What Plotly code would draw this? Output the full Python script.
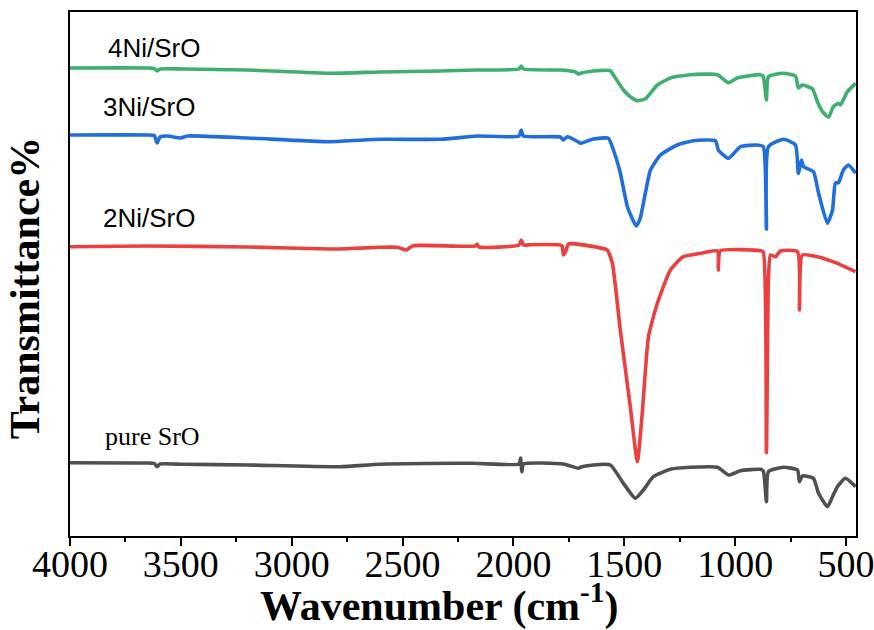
import plotly.graph_objects as go

# Wavenumber (cm-1) and transmittance (arbitrary offset units)
wn_4ni = [4000, 3652, 3620, 3607, 3594, 3490, 3200, 2827, 2601, 2330, 2172, 1975, 1965, 1955,
          1789, 1757, 1720, 1707, 1698, 1640, 1563, 1549, 1504, 1473, 1441, 1405, 1351, 1292,
          1202, 1080, 1030, 990, 886, 873, 859, 850, 782, 728, 715, 697, 651, 629, 606, 579,
          557, 534, 525, 494, 457]
t_4ni = [462, 462, 461.5, 459, 461, 461, 460, 456.7, 458, 459, 460, 461, 464, 461,
         460, 459.5, 458, 456, 456.7, 459, 459.3, 455, 440, 433.3, 429.3, 431.2, 445, 452,
         455.3, 455.3, 447.3, 452, 455.3, 453.3, 430, 453.3, 456.7, 454, 442, 445, 441, 428.3, 418.3, 412.7,
         423.3, 426.7, 425, 438.3, 446.7]

wn_3ni = [4000, 3652, 3620, 3607, 3594, 3560, 3500, 3470, 3200, 2827, 2601, 2330, 2163, 1975,
          1965, 1955, 1789, 1775, 1757, 1707, 1698, 1640, 1572, 1549, 1518, 1486, 1446, 1428,
          1405, 1382, 1337, 1261, 1188, 1089, 1076, 1030, 976, 900, 873, 859, 850, 782, 728,
          715, 701, 692, 647, 624, 584, 561, 548, 534, 512, 489, 457]
t_3ni = [395, 395, 394.5, 387, 393, 394, 392, 394, 392, 388.3, 390.7, 390.7, 394, 394,
         400, 394, 393, 390, 393.3, 388, 386.7, 391, 391.7, 380, 357, 323.3, 304, 312,
         337, 360, 375, 385, 389.3, 389.3, 380, 371.7, 383.3, 385, 383.3, 300.7, 383.3, 390.7, 385,
         356.7, 370, 363.3, 358.3, 337, 306.7, 320, 347, 347.3, 360, 365, 356.7]

wn_2ni = [4000, 3652, 3200, 2827, 2781, 2601, 2524, 2484, 2452, 2170, 2165, 2155, 1975, 1965,
          1955, 1924, 1789, 1780, 1775, 1765, 1752, 1622, 1577, 1554, 1518, 1473, 1441, 1419,
          1391, 1351, 1292, 1234, 1157, 1080, 1076, 1067, 886, 873, 859, 850, 841, 818, 796,
          719, 710, 697, 629, 539, 457]
t_2ni = [283.3, 284, 283, 281, 281, 282.7, 282.7, 280, 284.3, 284, 286, 283, 285, 290,
         285, 285.3, 285, 284, 275, 278, 286, 282.7, 280, 267, 200, 123.3, 68.3, 117,
         193.3, 226.7, 260, 273.3, 276.7, 279, 260, 279, 279.3, 278, 77.3, 250, 275, 273.3, 279,
         278.3, 220, 275, 273.3, 266.7, 258.3]

wn_pure = [4000, 3652, 3620, 3607, 3594, 3490, 3200, 2781, 2601, 2181, 1975, 1968, 1962, 1955,
           1775, 1707, 1698, 1640, 1563, 1504, 1450, 1414, 1369, 1292, 1202, 1080, 1030, 976,
           886, 873, 859, 850, 782, 719, 710, 697, 647, 624, 584, 561, 539, 503, 457]
t_pure = [67.3, 67, 66.5, 63.3, 66, 65.7, 65, 63.3, 65.7, 66.7, 66, 72, 58.3, 66,
          66, 61.7, 62.7, 65, 65, 46.7, 31.7, 40, 53.3, 60.7, 62.7, 62.7, 55, 59.3,
          60.7, 59, 28.3, 58.3, 62.7, 60, 48.3, 54, 51.7, 36.7, 23.3, 33.3, 43.3, 51.7, 43.3]

series = [
    ("4Ni/SrO", wn_4ni, t_4ni, "#3cb06c"),
    ("3Ni/SrO", wn_3ni, t_3ni, "#1f6ee0"),
    ("2Ni/SrO", wn_2ni, t_2ni, "#ec4040"),
    ("pure SrO", wn_pure, t_pure, "#505050"),
]

sans = "Liberation Sans, Arial, sans-serif"
serif = "Liberation Serif, Times New Roman, serif"

# label text, anchor wavenumber, anchor transmittance, font family
labels = [
    ("4Ni/SrO", 3837, 482, sans),
    ("3Ni/SrO", 3860, 423, sans),
    ("2Ni/SrO", 3860, 312, sans),
    ("pure SrO", 3851, 94, serif),
]

x_ticks = [4000, 3500, 3000, 2500, 2000, 1500, 1000, 500]
x_minor = [3750, 3250, 2750, 2250, 1750, 1250, 750]

fig = go.Figure()
for name, xs, ys, col in series:
    fig.add_trace(go.Scatter(x=xs, y=ys, mode="lines", name=name,
                             line=dict(color=col, width=3.6, shape="spline", smoothing=0.5),
                             showlegend=False))

for text, lx, ly, fam in labels:
    fig.add_annotation(x=lx, y=ly, text=text, showarrow=False, xanchor="left",
                       yanchor="middle", font=dict(family=fam, size=26, color="black"))

# axis titles
fig.add_annotation(xref="paper", yref="paper", x=0.4707, y=-0.128,
                   text="<b>Wavenumber (cm<sup>-1</sup>)</b>", showarrow=False,
                   xanchor="center", yanchor="middle",
                   font=dict(family=serif, size=42, color="black"))
fig.add_annotation(xref="paper", yref="paper", x=-0.057, y=0.473,
                   text="<b>Transmittance%</b>", showarrow=False, textangle=-90,
                   xanchor="center", yanchor="middle",
                   font=dict(family=serif, size=42, color="black"))

fig.update_layout(
    width=874, height=630,
    margin=dict(l=70, r=18, t=12, b=94, autoexpand=False),
    paper_bgcolor="white", plot_bgcolor="white",
    xaxis=dict(range=[4000, 455], tickvals=x_ticks, ticktext=[str(v) for v in x_ticks],
               ticks="outside", ticklen=8, tickwidth=1.5, tickcolor="black",
               showline=True, linecolor="black", linewidth=1.5, mirror=True,
               showgrid=False, zeroline=False, automargin=False,
               ticklabeloverflow="allow", ticklabelstandoff=-14,
               tickfont=dict(family=serif, size=38, color="black"),
               minor=dict(ticks="outside", ticklen=4, tickwidth=1.5, tickcolor="black",
                          tickvals=x_minor)),
    yaxis=dict(range=[-6, 518], showticklabels=False, ticks="",
               showline=True, linecolor="black", linewidth=1.5, mirror=True,
               showgrid=False, zeroline=False, automargin=False),
)

fig.write_html("out.html")
